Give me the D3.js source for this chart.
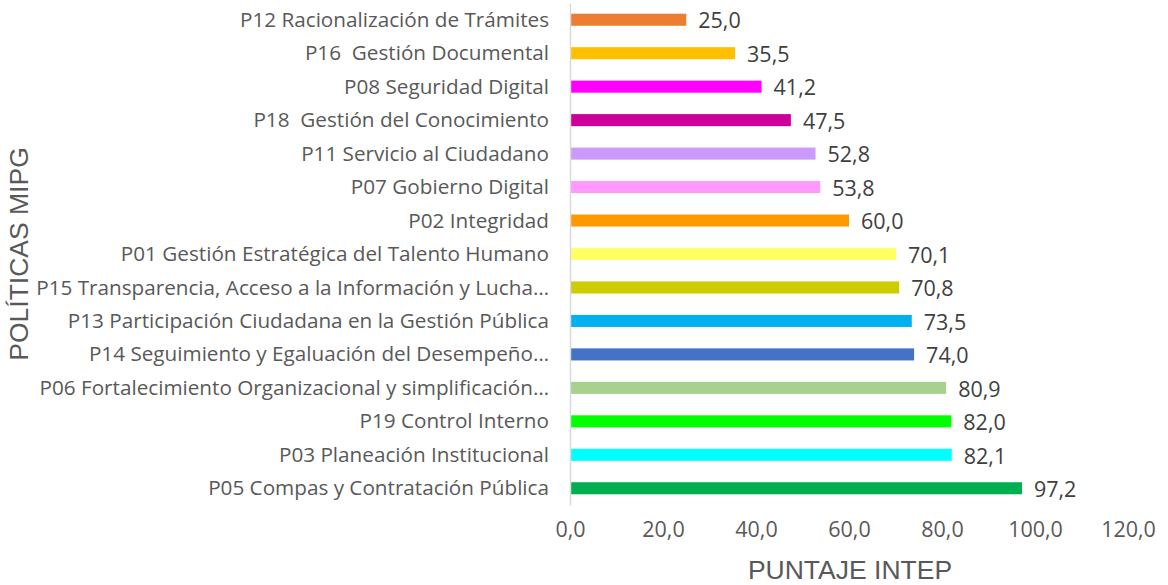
<!DOCTYPE html>
<html>
<head>
<meta charset="utf-8">
<script src="https://d3js.org/d3.v7.min.js"></script>
<style>
  body { margin: 0; background: #fff; }
  text { white-space: pre; }
</style>
</head>
<body>
<script>
  // data, top to bottom as shown
  let categories = ["P12 Racionalización de Trámites", "P16  Gestión Documental", "P08 Seguridad Digital",
    "P18  Gestión del Conocimiento", "P11 Servicio al Ciudadano", "P07 Gobierno Digital", "P02 Integridad",
    "P01 Gestión Estratégica del Talento Humano", "P15 Transparencia, Acceso a la Información y Lucha…",
    "P13 Participación Ciudadana en la Gestión Pública", "P14 Seguimiento y Egaluación del Desempeño…",
    "P06 Fortalecimiento Organizacional y simplificación…", "P19 Control Interno",
    "P03 Planeación Institucional", "P05 Compas y Contratación Pública"];
  let values = [25.0, 35.5, 41.2, 47.5, 52.8, 53.8, 60.0, 70.1, 70.8, 73.5, 74.0, 80.9, 82.0, 82.1, 97.2];
  let colors = ["#ED7D31", "#FFC000", "#FF00FF", "#CC0099", "#CC99FF", "#FF99FF", "#FF9900", "#FFFF66",
    "#CCCC00", "#00B0F0", "#4472C4", "#A9D18E", "#00FF00", "#00FFFF", "#00B050"];
  let xTicks = [0, 20, 40, 60, 80, 100, 120];

  let W = 1168, H = 585;
  let svg = d3.select("body").append("svg").attr("width", W).attr("height", H);
  let fmt = d => d.toFixed(1).replace(".", ",");

  let x = d3.scaleLinear().domain([0, 120]).range([570, 1128]);
  let y = d3.scaleBand().domain(categories).range([3, 505]).paddingInner(0.64).paddingOuter(0.32);

  // bars
  svg.selectAll("rect.bar").data(values).enter()
    .append("rect").attr("class", "bar")
    .attr("x", x(0))
    .attr("y", (d, i) => y(categories[i]))
    .attr("width", d => x(d) - x(0))
    .attr("height", y.bandwidth())
    .attr("fill", (d, i) => colors[i]);

  // value labels
  svg.selectAll("text.val").data(values).enter()
    .append("text").attr("class", "val")
    .attr("x", d => x(d) + 12)
    .attr("y", (d, i) => y(categories[i]) + y.bandwidth() / 2 + 1)
    .attr("dy", "0.36em")
    .attr("font-family", "Open Sans")
    .attr("font-size", 21.5)
    .attr("fill", "#404040")
    .text(fmt);

  // y axis
  let yAxis = svg.append("g").attr("transform", `translate(${x(0)},0)`)
    .call(d3.axisLeft(y).tickSize(0).tickPadding(21));
  yAxis.select(".domain").attr("stroke", "#d9d9d9").attr("stroke-width", 1.5);
  yAxis.selectAll("text").attr("font-family", "Open Sans").attr("font-size", 20.7).attr("fill", "#595959")
    .attr("dy", "0.34em");

  // x axis (labels only)
  let xAxis = svg.append("g").attr("transform", "translate(0,519)")
    .call(d3.axisBottom(x).tickValues(xTicks).tickFormat(fmt).tickSize(0).tickPadding(3));
  xAxis.select(".domain").remove();
  xAxis.selectAll("text").attr("font-family", "Open Sans").attr("font-size", 21.5).attr("fill", "#595959");

  // axis titles
  svg.append("text")
    .attr("x", 850).attr("y", 579)
    .attr("text-anchor", "middle")
    .attr("font-family", "Liberation Sans").attr("font-size", 26.5).attr("fill", "#595959")
    .text("PUNTAJE INTEP");

  svg.append("text")
    .attr("transform", "translate(28,254) rotate(-90)")
    .attr("text-anchor", "middle")
    .attr("font-family", "Liberation Sans").attr("font-size", 26.5).attr("fill", "#595959")
    .text("POLÍTICAS MIPG");
</script>
</body>
</html>
